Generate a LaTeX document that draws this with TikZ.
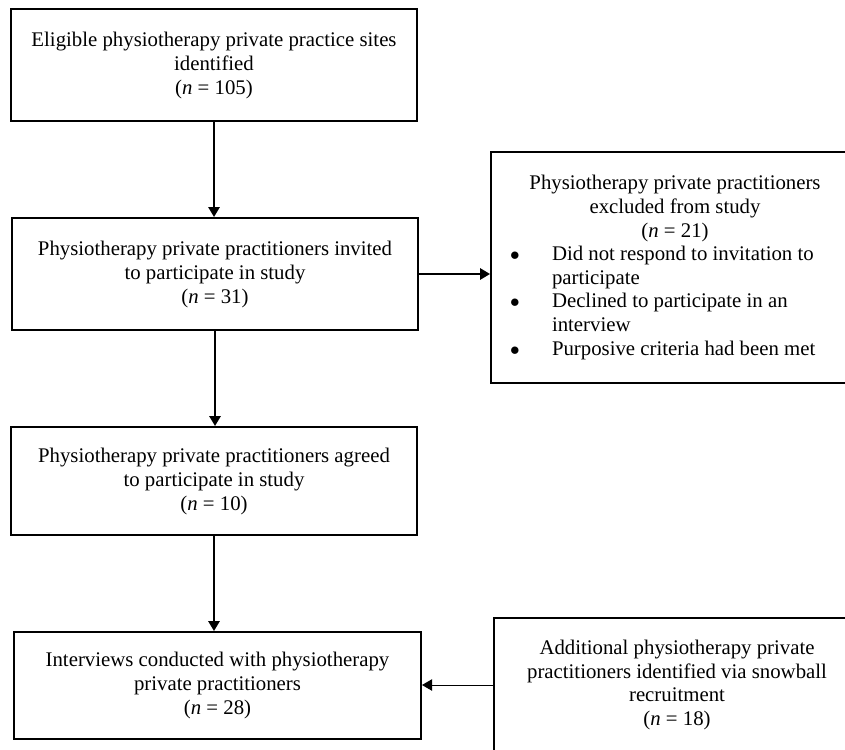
\documentclass[tikz,border=0pt]{standalone}
\usepackage{fontspec}
\setmainfont{Liberation Serif}
\usetikzlibrary{arrows.meta}

\tikzset{every picture/.style={line width=0.75pt}}
\tikzset{
  flowbox/.style={draw, line width=1.5pt, inner sep=0pt, align=center, font=\fontsize{15.6}{18}\selectfont},
  sidebox/.style={flowbox, font=\fontsize{15.6}{17.7}\selectfont},
  flowarrow/.style={line width=1.5pt, -{Triangle[width=8.5pt,length=7.5pt]}},
  sidearrow/.style={line width=0.75pt, -{Triangle[width=8.5pt,length=7.5pt]}},
}
\newcommand{\headrow}[1]{\makebox[276pt][c]{#1}}
\newcommand{\bulletrow}[1]{\makebox[276pt][l]{\hspace*{14.25pt}\makebox[31.5pt][l]{$\bullet$}#1}}
\newcommand{\hangrow}[1]{\makebox[276pt][l]{\hspace*{45.75pt}#1}}

\begin{document}
\begin{tikzpicture}[x=0.75pt,y=0.75pt,yscale=-1,xscale=1]
		%set diagram at 845 x 749, right boxes run off the edge
		\useasboundingbox (0,0) rectangle (845,749);
		\clip (0,0) rectangle (845,749);
		
		%Shape: Rectangle [id:sites]
		\node [flowbox, minimum width=304.5pt, minimum height=84pt] (sites) at (214,65) {Eligible physiotherapy private practice sites\\identified\\(\textit{n} = 105)};
		%Shape: Rectangle [id:invited]
		\node [flowbox, minimum width=304.5pt, minimum height=84pt] (invited) at (215,274) {Physiotherapy private practitioners invited\\to participate in study\\(\textit{n} = 31)};
		%Shape: Rectangle [id:agreed]
		\node [flowbox, minimum width=304.5pt, minimum height=81pt] (agreed) at (214,481) {Physiotherapy private practitioners agreed\\to participate in study\\(\textit{n} = 10)};
		%Shape: Rectangle [id:interviews]
		\node [flowbox, minimum width=305.25pt, minimum height=80.25pt] (interviews) at (217.5,685.5) {Interviews conducted with physiotherapy\\private practitioners\\(\textit{n} = 28)};
		%Shape: Rectangle [id:excluded]
		\node [sidebox, align=flush left, text width=276pt, minimum height=173.25pt] (excluded) at (675,267.5) {\headrow{Physiotherapy private practitioners}\\
			\headrow{excluded from study}\\
			\headrow{(\textit{n} = 21)}\\
			\bulletrow{Did not respond to invitation to}\\
			\hangrow{participate}\\
			\bulletrow{Declined to participate in an}\\
			\hangrow{interview}\\
			\bulletrow{Purposive criteria had been met}};
		%Shape: Rectangle [id:additional]
		\node [sidebox, minimum width=274.5pt, minimum height=100.5pt] (additional) at (677,685) {Additional physiotherapy private\\practitioners identified via snowball\\recruitment\\(\textit{n} = 18)};
		
		%Straight Lines
		\draw [flowarrow] (sites.south) -- (sites.south |- invited.north);
		%Straight Lines
		\draw [flowarrow] (invited.south) -- (invited.south |- agreed.north);
		%Straight Lines
		\draw [flowarrow] (agreed.south) -- (agreed.south |- interviews.north);
		%Straight Lines
		\draw [flowarrow] (invited.east) -- (invited.east -| excluded.west);
		%Straight Lines
		\draw [sidearrow] (additional.west) -- (additional.west -| interviews.east);
	\end{tikzpicture}
\end{document}
